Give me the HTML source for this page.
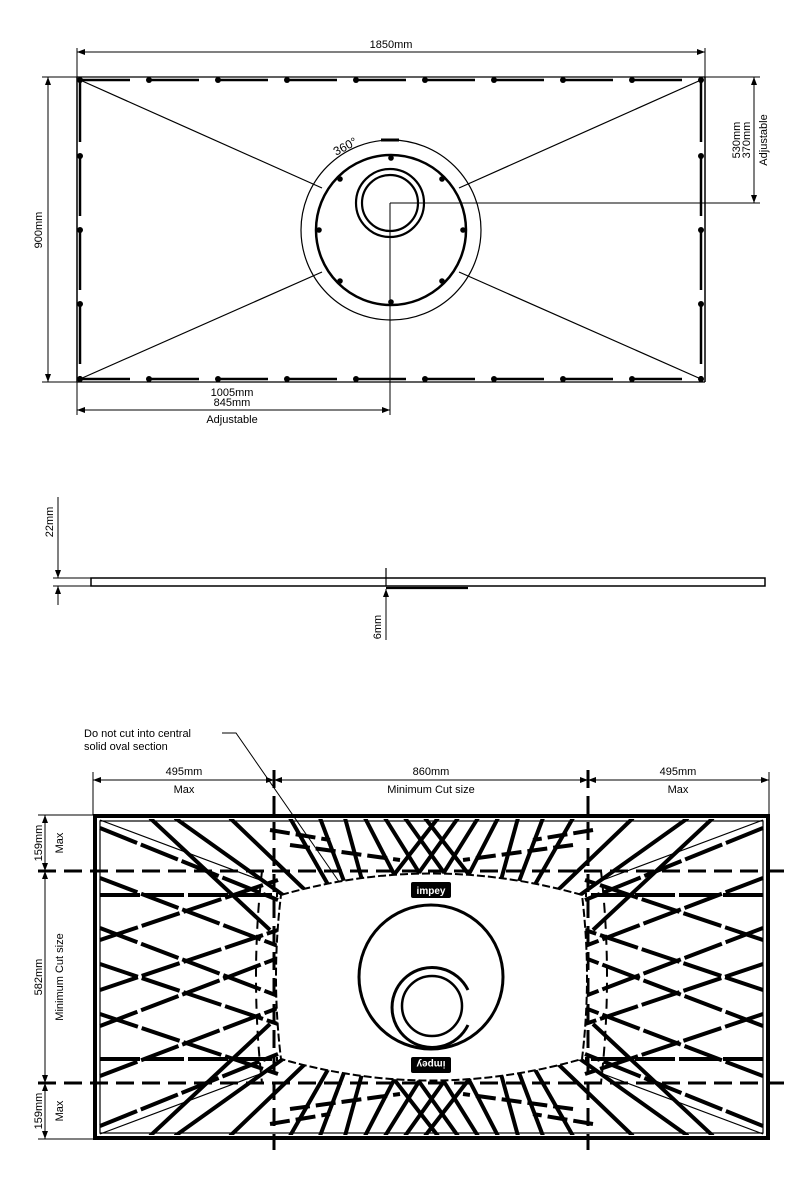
<!DOCTYPE html>
<html><head><meta charset="utf-8"><style>
html,body{margin:0;padding:0;background:#fff;}
svg{display:block;font-family:"Liberation Sans",Arial,sans-serif;}
</style></head><body>
<svg width="800" height="1200" viewBox="0 0 800 1200" xmlns="http://www.w3.org/2000/svg">
<defs>
<marker id="ar" markerWidth="8" markerHeight="6" refX="8" refY="3" orient="auto-start-reverse" markerUnits="userSpaceOnUse"><path d="M0,0 L8,3 L0,6 Z" fill="#000"/></marker>
<clipPath id="clipR"><rect x="97" y="819" width="669" height="316"/></clipPath>
</defs>

<!-- ========== TOP PLAN ========== -->
<g stroke="#000" fill="none">
  <!-- dims -->
  <line x1="77" y1="52" x2="705" y2="52" stroke-width="1" marker-start="url(#ar)" marker-end="url(#ar)"/>
  <line x1="77" y1="48" x2="77" y2="77" stroke-width="1"/>
  <line x1="705" y1="48" x2="705" y2="77" stroke-width="1"/>
  <line x1="48" y1="77" x2="48" y2="382" stroke-width="1" marker-start="url(#ar)" marker-end="url(#ar)"/>
  <line x1="42" y1="77" x2="77" y2="77" stroke-width="1"/>
  <line x1="42" y1="382" x2="77" y2="382" stroke-width="1"/>
  <line x1="754" y1="77" x2="754" y2="203" stroke-width="1" marker-start="url(#ar)" marker-end="url(#ar)"/>
  <line x1="705" y1="77" x2="760" y2="77" stroke-width="1"/>
  <line x1="390" y1="203" x2="760" y2="203" stroke-width="1"/>
  <line x1="390" y1="203" x2="390" y2="415" stroke-width="1"/>
  <line x1="77" y1="382" x2="77" y2="415" stroke-width="1"/>
  <line x1="77" y1="410" x2="390" y2="410" stroke-width="1" marker-start="url(#ar)" marker-end="url(#ar)"/>
  <!-- frame -->
  <line x1="77" y1="77" x2="705" y2="77" stroke-width="1.2"/>
  <line x1="77" y1="77" x2="77" y2="382" stroke-width="1.5"/>
  <line x1="705" y1="77" x2="705" y2="382" stroke-width="1.5"/>
  <line x1="77" y1="382" x2="705" y2="382" stroke-width="1.2"/>
  <line x1="80" y1="80" x2="701" y2="80" stroke-width="2.5" stroke-dasharray="50 19"/>
  <line x1="80" y1="379" x2="701" y2="379" stroke-width="2.5" stroke-dasharray="50 19"/>
  <line x1="80" y1="80" x2="80" y2="379" stroke-width="2.5" stroke-dasharray="62 12"/>
  <line x1="701" y1="80" x2="701" y2="379" stroke-width="2.5" stroke-dasharray="62 12"/>
  <!-- diagonals -->
  <line x1="80" y1="80" x2="322" y2="188" stroke-width="1.2"/>
  <line x1="701" y1="80" x2="459" y2="188" stroke-width="1.2"/>
  <line x1="80" y1="379" x2="322" y2="272" stroke-width="1.2"/>
  <line x1="701" y1="379" x2="459" y2="272" stroke-width="1.2"/>
  <!-- circles -->
  <circle cx="391" cy="230" r="90" stroke-width="1.2"/>
  <circle cx="391" cy="230" r="75" stroke-width="2.5"/>
  <circle cx="390" cy="203" r="34" stroke-width="2.2"/>
  <circle cx="390" cy="203" r="28" stroke-width="2.2"/>
  <line x1="381" y1="140" x2="399" y2="140" stroke-width="3"/>
</g>
<g fill="#000">
  <circle cx="80" cy="80" r="3"/><circle cx="149" cy="80" r="3"/><circle cx="218" cy="80" r="3"/><circle cx="287" cy="80" r="3"/><circle cx="356" cy="80" r="3"/><circle cx="425" cy="80" r="3"/><circle cx="494" cy="80" r="3"/><circle cx="563" cy="80" r="3"/><circle cx="632" cy="80" r="3"/><circle cx="701" cy="80" r="3"/>
  <circle cx="80" cy="379" r="3"/><circle cx="149" cy="379" r="3"/><circle cx="218" cy="379" r="3"/><circle cx="287" cy="379" r="3"/><circle cx="356" cy="379" r="3"/><circle cx="425" cy="379" r="3"/><circle cx="494" cy="379" r="3"/><circle cx="563" cy="379" r="3"/><circle cx="632" cy="379" r="3"/><circle cx="701" cy="379" r="3"/>
  <circle cx="80" cy="156" r="3"/><circle cx="80" cy="230" r="3"/><circle cx="80" cy="304" r="3"/>
  <circle cx="701" cy="156" r="3"/><circle cx="701" cy="230" r="3"/><circle cx="701" cy="304" r="3"/>
  <circle cx="391" cy="158" r="2.8"/><circle cx="391" cy="302" r="2.8"/><circle cx="319" cy="230" r="2.8"/><circle cx="463" cy="230" r="2.8"/>
  <circle cx="340" cy="179" r="2.8"/><circle cx="442" cy="179" r="2.8"/><circle cx="340" cy="281" r="2.8"/><circle cx="442" cy="281" r="2.8"/>
</g>
<g font-size="11" fill="#000">
  <text x="391" y="48" text-anchor="middle">1850mm</text>
  <text transform="translate(42,230) rotate(-90)" text-anchor="middle">900mm</text>
  <text transform="translate(740,140) rotate(-90)" text-anchor="middle">530mm</text>
  <text transform="translate(750,140) rotate(-90)" text-anchor="middle">370mm</text>
  <text transform="translate(767,140) rotate(-90)" text-anchor="middle">Adjustable</text>
  <text x="232" y="396" text-anchor="middle">1005mm</text>
  <text x="232" y="406" text-anchor="middle">845mm</text>
  <text x="232" y="423" text-anchor="middle">Adjustable</text>
  <text transform="translate(347,150) rotate(-28)" text-anchor="middle" font-size="12">360°</text>
</g>

<!-- ========== SIDE PROFILE ========== -->
<g stroke="#000" fill="none">
  <rect x="91" y="578" width="674" height="8" stroke-width="1.5"/>
  <line x1="58" y1="497" x2="58" y2="578" stroke-width="1" marker-end="url(#ar)"/>
  <line x1="58" y1="586" x2="58" y2="605" stroke-width="1" marker-start="url(#ar)"/>
  <line x1="53" y1="578" x2="91" y2="578" stroke-width="1"/>
  <line x1="53" y1="586" x2="91" y2="586" stroke-width="1"/>
  <line x1="386" y1="568" x2="386" y2="586" stroke-width="1.2"/>
  <line x1="386" y1="589" x2="386" y2="640" stroke-width="1" marker-start="url(#ar)"/>
  <line x1="386" y1="588" x2="468" y2="588" stroke-width="2.2"/>
</g>
<g font-size="11" fill="#000">
  <text transform="translate(53,522) rotate(-90)" text-anchor="middle">22mm</text>
  <text transform="translate(381,627) rotate(-90)" text-anchor="middle">6mm</text>
</g>

<!-- ========== BOTTOM CUT PLAN ========== -->
<g font-size="11" fill="#000">
  <text x="84" y="737">Do not cut into central</text>
  <text x="84" y="750">solid oval section</text>
  <text x="184" y="775" text-anchor="middle">495mm</text>
  <text x="184" y="793" text-anchor="middle">Max</text>
  <text x="431" y="775" text-anchor="middle">860mm</text>
  <text x="431" y="793" text-anchor="middle">Minimum Cut size</text>
  <text x="678" y="775" text-anchor="middle">495mm</text>
  <text x="678" y="793" text-anchor="middle">Max</text>
  <text transform="translate(42,843) rotate(-90)" text-anchor="middle">159mm</text>
  <text transform="translate(63,843) rotate(-90)" text-anchor="middle">Max</text>
  <text transform="translate(42,977) rotate(-90)" text-anchor="middle">582mm</text>
  <text transform="translate(63,977) rotate(-90)" text-anchor="middle">Minimum Cut size</text>
  <text transform="translate(42,1111) rotate(-90)" text-anchor="middle">159mm</text>
  <text transform="translate(63,1111) rotate(-90)" text-anchor="middle">Max</text>
</g>
<g stroke="#000" fill="none" stroke-width="1">
  <line x1="93" y1="780" x2="274" y2="780" marker-start="url(#ar)" marker-end="url(#ar)"/>
  <line x1="274" y1="780" x2="588" y2="780" marker-start="url(#ar)" marker-end="url(#ar)"/>
  <line x1="588" y1="780" x2="769" y2="780" marker-start="url(#ar)" marker-end="url(#ar)"/>
  <line x1="93" y1="772" x2="93" y2="815"/>
  <line x1="769" y1="772" x2="769" y2="815"/>
  <line x1="45" y1="815" x2="45" y2="871" marker-start="url(#ar)" marker-end="url(#ar)"/>
  <line x1="45" y1="871" x2="45" y2="1083" marker-start="url(#ar)" marker-end="url(#ar)"/>
  <line x1="45" y1="1083" x2="45" y2="1139" marker-start="url(#ar)" marker-end="url(#ar)"/>
  <line x1="38" y1="815" x2="95" y2="815"/>
  <line x1="38" y1="1139" x2="95" y2="1139"/>
  <polyline points="222,733 236,733 360,912"/>
</g>
<circle cx="360" cy="912" r="2.5" fill="#000"/>

<g id="q" clip-path="url(#clipR)" stroke="#000" fill="none" stroke-width="4">
  <!-- side X pattern -->
  <g stroke-dasharray="40 4">
  <line x1="100" y1="828" x2="278" y2="900"/>
  <line x1="100" y1="878" x2="278" y2="946"/>
  <line x1="100" y1="928" x2="278" y2="996"/>
  <line x1="100" y1="940" x2="278" y2="880"/>
  <line x1="100" y1="990" x2="278" y2="930"/>
  <line x1="100" y1="895" x2="278" y2="895"/>
  </g>
  <!-- steep fan lines -->
  <line x1="175" y1="818" x2="290" y2="900"/>
  <line x1="230" y1="818" x2="305" y2="890"/>
  <line x1="150" y1="818" x2="270" y2="930"/>
  <line x1="290" y1="818" x2="330" y2="888"/>
  <line x1="320" y1="818" x2="345" y2="884"/>
  <line x1="345" y1="818" x2="362" y2="880"/>
  <line x1="365" y1="818" x2="395" y2="876"/>
  <line x1="385" y1="818" x2="420" y2="874"/>
  <line x1="405" y1="818" x2="445" y2="874"/>
  <line x1="425" y1="818" x2="470" y2="876"/>
  <line x1="270" y1="830" x2="330" y2="840" stroke-dasharray="20 6"/>
  <line x1="290" y1="845" x2="400" y2="860" stroke-dasharray="20 6"/>
  <line x1="100" y1="820" x2="260" y2="880" stroke-width="1.2"/>
</g>
<use href="#q" transform="translate(863,0) scale(-1,1)"/>
<use href="#q" transform="translate(0,1954) scale(1,-1)"/>
<use href="#q" transform="translate(863,1954) scale(-1,-1)"/>

<g stroke="#000" fill="none">
  <!-- dashed grid lines -->
  <line x1="38" y1="871" x2="785" y2="871" stroke-width="3" stroke-dasharray="18 8"/>
  <line x1="38" y1="1083" x2="785" y2="1083" stroke-width="3" stroke-dasharray="18 8"/>
  <line x1="274" y1="770" x2="274" y2="1150" stroke-width="3" stroke-dasharray="18 8"/>
  <line x1="588" y1="770" x2="588" y2="1150" stroke-width="3" stroke-dasharray="18 8"/>
  <path d="M262 871 Q250 977 262 1083" stroke-width="2" stroke-dasharray="10 6"/>
  <path d="M601 871 Q613 977 601 1083" stroke-width="2" stroke-dasharray="10 6"/>
  <!-- oval -->
  <path d="M281 895 Q431 852 582 895 Q592 977 582 1059 Q431 1102 281 1059 Q271 977 281 895 Z" fill="#fff" stroke-width="2" stroke-dasharray="8 3"/>
  <!-- outer frame -->
  <rect x="95" y="816" width="673" height="322" stroke-width="4"/>
  <rect x="100" y="821" width="663" height="312" stroke-width="1.2"/>
  <!-- big circle + drain -->
  <circle cx="431" cy="977" r="72" stroke-width="3"/>
  <path d="M468 990 A40 40 0 1 0 468 1025" stroke-width="3"/>
  <circle cx="432" cy="1006" r="30" stroke-width="2.5"/>
</g>
<g>
  <rect x="411" y="882" width="40" height="16" rx="2" fill="#000"/>
  <text x="431" y="894" font-size="10" font-weight="bold" fill="#fff" text-anchor="middle">impey</text>
  <rect x="411" y="1057" width="40" height="16" rx="2" fill="#000"/>
  <text transform="translate(431,1061) rotate(180)" font-size="10" font-weight="bold" fill="#fff" text-anchor="middle">impey</text>
</g>
</svg>
</body></html>
